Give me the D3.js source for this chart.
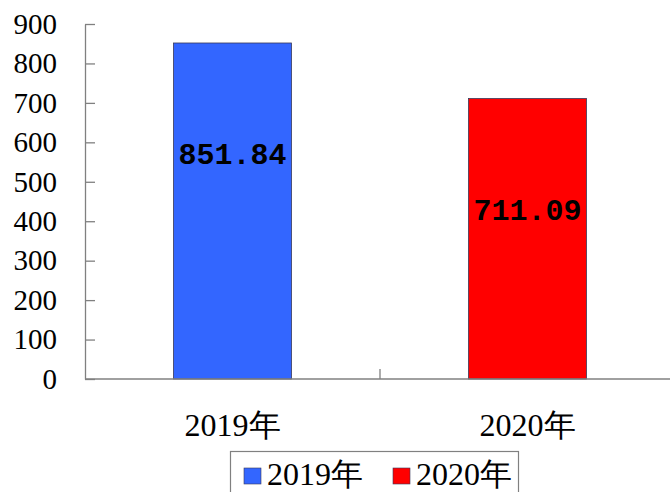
<!DOCTYPE html>
<html>
<head>
<meta charset="utf-8">
<script src="https://cdn.jsdelivr.net/npm/d3@7"></script>
</head>
<body style="margin:0">
<script>
// data
var categories = ["2019年", "2020年"];
var values = [851.84, 711.09];
var colors = ["#3366FF", "#FF0000"];
var yTicks = [0, 100, 200, 300, 400, 500, 600, 700, 800, 900];

var width = 670, height = 492;
var plotLeft = 85, plotRight = 675, plotTop = 24, plotBottom = 379;
var fontNames = ["Liberation Serif", "Liberation Mono"];

var svg = d3.select("body").append("svg")
	.attr("width", width)
	.attr("height", height)
	.style("font-family", function () { return fontNames[0]; });

var y = d3.scaleLinear().domain([0, 900]).range([plotBottom, plotTop]);
var x = d3.scaleBand().domain(categories).range([plotLeft, plotRight])
	.paddingInner(0.6).paddingOuter(0.3);

// y axis, ticks pointing inward
var yAxis = svg.append("g")
	.attr("transform", "translate(" + plotLeft + ",0)")
	.call(d3.axisLeft(y).tickValues(yTicks).tickSizeInner(-10).tickSizeOuter(0).tickPadding(28));
yAxis.attr("font-family", null).attr("font-size", null);
yAxis.selectAll("path, line").attr("stroke", "#808080").attr("stroke-width", 1.3);
yAxis.selectAll("text")
	.attr("fill", "#000")
	.attr("font-size", 29)
	.style("font-family", function () { return fontNames[0]; });

// bars
svg.selectAll("rect.bar")
	.data(values)
	.enter().append("rect")
	.attr("class", "bar")
	.attr("x", function (d, i) { return x(categories[i]); })
	.attr("y", function (d) { return y(d); })
	.attr("width", x.bandwidth())
	.attr("height", function (d) { return y(0) - y(d); })
	.attr("fill", function (d, i) { return colors[i]; })
	.attr("stroke", "#3a3a5a")
	.attr("stroke-width", 0.8);

// x axis line and category separators
svg.append("line")
	.attr("x1", plotLeft).attr("x2", plotRight)
	.attr("y1", y(0)).attr("y2", y(0))
	.attr("stroke", "#808080").attr("stroke-width", 1.3);
d3.range(1, categories.length + 1).forEach(function (i) {
	var sx = plotLeft + i * x.step();
	svg.append("line")
		.attr("x1", sx).attr("x2", sx)
		.attr("y1", y(0)).attr("y2", y(0) - 10)
		.attr("stroke", "#808080").attr("stroke-width", 1.3);
});

// value labels
svg.selectAll("text.val")
	.data(values)
	.enter().append("text")
	.attr("class", "val")
	.attr("x", function (d, i) { return x(categories[i]) + x.bandwidth() / 2; })
	.attr("y", function (d) { return y(d) + 111; })
	.attr("dy", "0.35em")
	.attr("text-anchor", "middle")
	.attr("font-size", 30)
	.attr("font-weight", "bold")
	.style("font-family", function () { return fontNames[1]; })
	.text(function (d) { return d.toFixed(2); });

// category labels
svg.selectAll("text.cat")
	.data(categories)
	.enter().append("text")
	.attr("class", "cat")
	.attr("x", function (d) { return x(d) + x.bandwidth() / 2; })
	.attr("y", 436)
	.attr("text-anchor", "middle")
	.attr("font-size", 32)
	.style("font-family", function () { return fontNames[0]; })
	.text(function (d) { return d; });

// legend
var legend = svg.append("g");
legend.append("rect")
	.attr("x", 230.5).attr("y", 451.5)
	.attr("width", 288).attr("height", 60)
	.attr("fill", "#fff")
	.attr("stroke", "#808080").attr("stroke-width", 1.2);
var item = legend.selectAll("g.item")
	.data(categories)
	.enter().append("g")
	.attr("class", "item")
	.attr("transform", function (d, i) { return "translate(" + (244 + i * 149) + ",0)"; });
item.append("rect")
	.attr("y", 468).attr("width", 17).attr("height", 16)
	.attr("fill", function (d, i) { return colors[i]; })
	.attr("stroke", "#3a3a5a").attr("stroke-width", 0.6);
item.append("text")
	.attr("x", 23).attr("y", 485)
	.attr("font-size", 32)
	.style("font-family", function () { return fontNames[0]; })
	.text(function (d) { return d; });
</script>
</body>
</html>
